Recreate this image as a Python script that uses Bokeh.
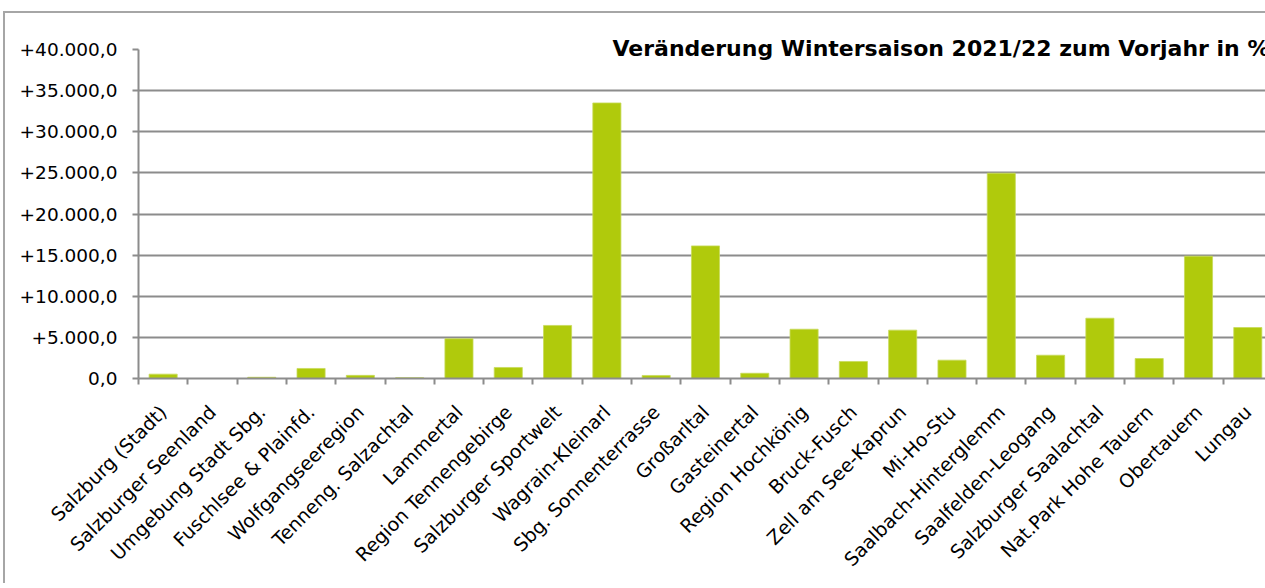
import math
from bokeh.plotting import figure
from bokeh.models import Range1d, FixedTicker, Title
from bokeh.embed import file_html
from bokeh.resources import INLINE

categories = [
    "Salzburg (Stadt)", "Salzburger Seenland", "Umgebung Stadt Sbg.",
    "Fuschlsee & Plainfd.", "Wolfgangseeregion", "Tenneng. Salzachtal",
    "Lammertal", "Region Tennengebirge", "Salzburger Sportwelt",
    "Wagrain-Kleinarl", "Sbg. Sonnenterrasse", "Großarltal", "Gasteinertal",
    "Region Hochkönig", "Bruck-Fusch", "Zell am See-Kaprun", "Mi-Ho-Stu",
    "Saalbach-Hinterglemm", "Saalfelden-Leogang", "Salzburger Saalachtal",
    "Nat.Park Hohe Tauern", "Obertauern", "Lungau",
]
values = [
    530, 0, 150, 1220, 380, 100, 4830, 1340, 6450, 33500, 370, 16120, 640,
    5990, 2070, 5880, 2230, 24960, 2830, 7330, 2430, 14870, 6200,
]
y_ticks = [0, 5000, 10000, 15000, 20000, 25000, 30000, 35000, 40000]
y_tick_labels = ["0,0", "+5.000,0", "+10.000,0", "+15.000,0", "+20.000,0",
                 "+25.000,0", "+30.000,0", "+35.000,0", "+40.000,0"]
title_text = "Veränderung Wintersaison 2021/22 zum Vorjahr in %"

FONT = "DejaVu Sans"
GRID = "#8c8c8c"

n = len(categories)
centers = [i + 0.5 for i in range(n)]
bounds = list(range(n + 1))

p = figure(width=1264, height=572, output_backend="svg", toolbar_location=None,
           x_range=Range1d(0, 22.94), y_range=Range1d(0, 40000),
           min_border_left=133, min_border_right=0, min_border_top=36,
           min_border_bottom=207,
           styles={"border-top": "2px solid #a6a6a6",
                   "border-left": "2px solid #a6a6a6",
                   "border-right": "0px none", "border-bottom": "0px none",
                   "margin-left": "3px", "margin-top": "11px"})
p.outline_line_color = None
p.background_fill_color = "white"
p.border_fill_color = "white"

p.vbar(x=centers, top=values, width=0.57, bottom=0,
       fill_color="#b0ca0c", line_color="#c8db5a", line_width=0.8)

# y axis
p.yaxis.ticker = FixedTicker(ticks=y_ticks)
p.yaxis.major_label_overrides = {t: l for t, l in zip(y_ticks, y_tick_labels)}
p.yaxis.axis_line_color = GRID
p.yaxis.axis_line_width = 2
p.yaxis.major_tick_line_color = GRID
p.yaxis.major_tick_line_width = 2
p.yaxis.major_tick_out = 6
p.yaxis.major_tick_in = 0
p.yaxis.minor_tick_line_color = None
p.yaxis.major_label_text_font = FONT
p.yaxis.major_label_text_font_size = "18.5px"
p.yaxis.major_label_text_color = "black"
p.yaxis.major_label_standoff = 15

# x axis
p.xaxis.ticker = FixedTicker(ticks=centers, minor_ticks=bounds)
p.xaxis.major_label_overrides = {c: l for c, l in zip(centers, categories)}
p.xaxis.major_label_orientation = math.pi / 4
p.xaxis.axis_line_color = GRID
p.xaxis.axis_line_width = 2
p.xaxis.major_tick_line_color = None
p.xaxis.major_tick_out = 0
p.xaxis.minor_tick_line_color = GRID
p.xaxis.minor_tick_line_width = 2
p.xaxis.minor_tick_out = 6
p.xaxis.minor_tick_in = 0
p.xaxis.major_label_text_font = FONT
p.xaxis.major_label_text_font_size = "19px"
p.xaxis.major_label_text_color = "black"
p.xaxis.major_label_standoff = 24

p.xgrid.grid_line_color = None
p.ygrid.grid_line_color = GRID
p.ygrid.grid_line_width = 2

p.title = Title(text=title_text, align="left", offset=474, standoff=-23,
                text_font=FONT, text_font_size="22px", text_font_style="bold",
                text_color="black", background_fill_color="white")

open("out.html", "w").write(file_html(p, INLINE))
